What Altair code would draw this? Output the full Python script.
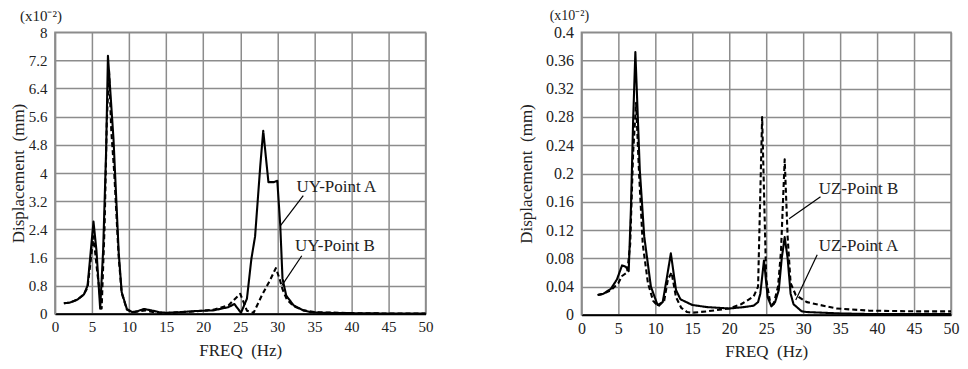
import altair as alt
import pandas as pd

FONT = "Liberation Serif"

# ---------------- Left panel: UY ----------------
uy_a_freq = [1.2, 2.0, 3.0, 3.9, 4.4, 5.2, 5.6, 6.1, 6.5, 6.9, 7.15, 7.9, 8.6, 9.0, 9.7,
             10.4, 11.2, 12.0, 13.0, 14.0, 15.0, 17.0, 19.0, 21.4, 23.4, 24.2, 25.1, 25.9,
             26.5, 27.0, 27.7, 28.1, 28.8, 29.5, 30.0, 30.4, 30.7, 31.2, 32.2, 33.5, 34.4,
             36.0, 40.0, 45.0, 50.0]
uy_a_disp = [0.30, 0.32, 0.40, 0.55, 0.80, 2.62, 1.8, 0.15, 1.8, 4.6, 7.33, 4.96, 1.75, 0.62, 0.14,
             0.05, 0.08, 0.14, 0.10, 0.05, 0.03, 0.05, 0.08, 0.10, 0.19, 0.28, 0.03, 0.43,
             1.56, 2.2, 4.2, 5.2, 3.74, 3.74, 3.78, 2.5, 1.0, 0.52, 0.24, 0.10, 0.05,
             0.03, 0.02, 0.01, 0.01]

uy_b_freq = [1.2, 2.0, 3.0, 3.9, 4.4, 5.2, 5.7, 6.3, 6.7, 7.0, 7.3, 7.6, 8.0, 8.6, 9.0, 9.7,
             10.5, 11.5, 12.2, 13.0, 14.0, 15.0, 17.0, 19.0, 21.4, 23.4, 25.0, 25.9, 26.8,
             27.9, 29.0, 29.8, 30.3, 30.7, 31.3, 32.2, 33.5, 35.0, 40.0, 45.0, 50.0]
uy_b_disp = [0.30, 0.32, 0.40, 0.55, 0.75, 2.2, 1.2, 0.15, 2.5, 5.5, 6.9, 5.2, 4.0, 1.6, 0.6, 0.12,
             0.04, 0.08, 0.10, 0.06, 0.03, 0.02, 0.05, 0.07, 0.12, 0.24, 0.57, 0.09, 0.03,
             0.52, 0.95, 1.3, 1.0, 0.7, 0.4, 0.22, 0.10, 0.05, 0.02, 0.01, 0.01]

# ---------------- Right panel: UZ ----------------
uz_a_freq = [2.2, 3.0, 4.0, 4.8, 5.5, 6.0, 6.4, 6.7, 7.0, 7.3, 7.9, 8.5, 9.4, 10.3, 11.0,
             11.6, 12.1, 12.8, 13.4, 15.0, 17.0, 20.0, 22.0, 23.3, 23.9, 24.2, 24.7, 25.2,
             25.7, 26.2, 26.7, 27.1, 27.5, 27.9, 28.3, 28.7, 29.8, 30.5, 35.0, 40.0, 50.0]
uz_a_disp = [0.028, 0.030, 0.037, 0.050, 0.070, 0.068, 0.062, 0.15, 0.275, 0.372, 0.205, 0.111, 0.040, 0.014, 0.018,
             0.055, 0.087, 0.035, 0.022, 0.014, 0.011, 0.009, 0.011, 0.013, 0.018, 0.030, 0.077, 0.025,
             0.012, 0.018, 0.035, 0.080, 0.110, 0.080, 0.030, 0.015, 0.005, 0.004, 0.002, 0.001, 0.001]

uz_b_freq = [2.2, 3.0, 4.0, 5.0, 5.5, 6.2, 6.6, 7.0, 7.4, 7.8, 8.3, 9.0, 9.7, 10.4, 11.2,
             11.7, 12.2, 12.8, 13.5, 14.3, 15.0, 17.0, 20.0, 21.6, 23.3, 23.9, 24.45, 25.0,
             25.5, 26.0, 26.6, 27.0, 27.5, 27.9, 28.3, 29.0, 30.5, 34.5, 38.9, 45.0, 50.0]
uz_b_disp = [0.028, 0.030, 0.035, 0.045, 0.055, 0.060, 0.10, 0.23, 0.30, 0.20, 0.10, 0.045, 0.020, 0.012, 0.020,
             0.050, 0.060, 0.025, 0.010, 0.004, 0.003, 0.005, 0.009, 0.015, 0.026, 0.040, 0.28, 0.050,
             0.020, 0.015, 0.040, 0.090, 0.22, 0.11, 0.045, 0.028, 0.018, 0.009, 0.006, 0.005, 0.005]

x_ticks = [0, 5, 10, 15, 20, 25, 30, 35, 40, 45, 50]
uy_ticks = [0, 0.8, 1.6, 2.4, 3.2, 4, 4.8, 5.6, 6.4, 7.2, 8]
uz_ticks = [0, 0.04, 0.08, 0.12, 0.16, 0.2, 0.24, 0.28, 0.32, 0.36, 0.4]

# annotation labels (data units) and leader lines
uy_labels = ["UY-Point A", "UY-Point B"]
uy_label_x = [32.6, 32.4]
uy_label_y = [3.6, 1.93]
uy_lead_x = [33.5, 33.3]
uy_lead_y = [3.36, 1.65]
uy_lead_x2 = [30.4, 30.6]
uy_lead_y2 = [2.5, 0.8]

uz_labels = ["UZ-Point B", "UZ-Point A"]
uz_label_x = [32.1, 32.1]
uz_label_y = [0.178, 0.098]
uz_lead_x = [32.35, 31.9]
uz_lead_y = [0.167, 0.085]
uz_lead_x2 = [28.1, 29.0]
uz_lead_y2 = [0.136, 0.021]

GRID = "#8c8c8c"


def panel(sa, sb, a_name, b_name, ymax, yticks, labels, lx, ly, ax, ay, ax2, ay2,
          width, height, label_size, y_title_pad, x_title_pad, unit_dx, unit_size):
    df = pd.concat([
        pd.DataFrame({"freq": sa[0], "disp": sa[1], "series": a_name}),
        pd.DataFrame({"freq": sb[0], "disp": sb[1], "series": b_name}),
    ])
    xs = alt.Scale(domain=[0, 50], nice=False, zero=False)
    ys = alt.Scale(domain=[0, ymax], nice=False)
    common = dict(
        labelFont=FONT, titleFont=FONT, titleFontSize=17, titleFontWeight="normal",
        labelColor="#222", titleColor="#222", ticks=False, tickSize=0,
        gridColor=GRID, gridWidth=1.5, gridOpacity=1, labelFontSize=label_size,
        labelExpr="'' + datum.value", grid=True, labelFlush=False)
    x_axis = alt.Axis(values=x_ticks, title="FREQ\u00a0\u00a0(Hz)", labelPadding=6,
                      titlePadding=x_title_pad, domainColor="black", domainWidth=2, **common)
    y_axis = alt.Axis(values=yticks, title="Displacement\u00a0\u00a0(mm)", labelPadding=8,
                      titlePadding=y_title_pad, domainColor=GRID, domainWidth=1.5, **common)

    def X(field):
        return alt.X(field, scale=xs, axis=x_axis)

    def Y(field):
        return alt.Y(field, scale=ys, axis=y_axis)

    lines = alt.Chart(df).mark_line(strokeWidth=2.1, color="black", strokeJoin="round").encode(
        x=X("freq:Q"), y=Y("disp:Q"),
        strokeDash=alt.StrokeDash("series:N", scale=alt.Scale(domain=[a_name, b_name],
                                                             range=[[1, 0], [5, 3]]), legend=None),
        detail="series:N",
        order=alt.Order("freq:Q"),
    )
    ldf = pd.DataFrame({"label": labels, "lx": lx, "ly": ly,
                        "ax": ax, "ay": ay, "ax2": ax2, "ay2": ay2})
    text = alt.Chart(ldf).mark_text(align="left", baseline="middle", font=FONT,
                                    fontSize=17, color="#222").encode(
        x=X("lx:Q"), y=Y("ly:Q"), text="label:N")
    leads = alt.Chart(ldf).mark_rule(color="black", strokeWidth=1.2).encode(
        x=X("ax:Q"), y=Y("ay:Q"), x2="ax2:Q", y2="ay2:Q")
    unit = alt.Chart(pd.DataFrame({"t": ["(x10\u207b\u00b2)"]})).mark_text(
        font=FONT, fontSize=unit_size, color="#222", baseline="middle", align="center").encode(
        x=alt.value(unit_dx), y=alt.value(-16), text="t:N")
    return alt.layer(lines, leads, text, unit).properties(width=width, height=height)


left = panel((uy_a_freq, uy_a_disp), (uy_b_freq, uy_b_disp), "UY-Point A", "UY-Point B",
             8, uy_ticks, uy_labels, uy_label_x, uy_label_y, uy_lead_x, uy_lead_y,
             uy_lead_x2, uy_lead_y2, 371, 282, 15, 1, 8, -14, 15)
right = panel((uz_a_freq, uz_a_disp), (uz_b_freq, uz_b_disp), "UZ-Point A", "UZ-Point B",
              0.4, uz_ticks, uz_labels, uz_label_x, uz_label_y, uz_lead_x, uz_lead_y,
              uz_lead_x2, uz_lead_y2, 370, 283, 16, 10, 7, -12, 14)

chart = alt.hconcat(left, right, spacing=82).properties(
    padding={"left": 0, "top": 0, "right": 0, "bottom": 0},
    background="white",
).configure_view(stroke=GRID, strokeWidth=1.5)

chart.save("out.html", embed_options={"renderer": "svg", "actions": False})
